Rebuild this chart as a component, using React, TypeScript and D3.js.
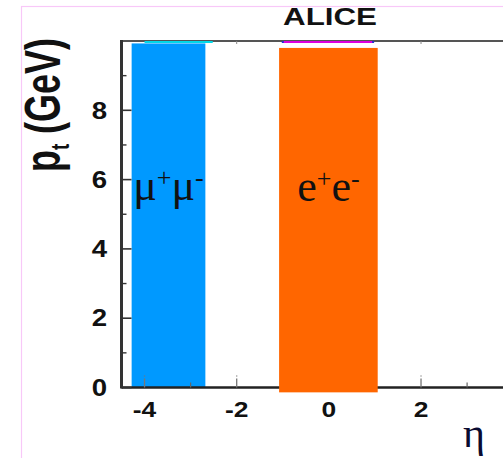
import React from 'react';
import * as d3 from 'd3';

// axis ticks
const etaMajorTicks = [-4, -2, 0, 2];
const etaMinorTicks = [-3, -1, 1, 3];
const ptMajorTicks = [0, 2, 4, 6, 8];
const ptMinorTicks = [1, 3, 5, 7, 9];
const etaTickLabels = ['-4', '-2', '0', '2'];
const ptTickLabels = ['0', '2', '4', '6', '8'];

// acceptance bands (drawn bars)
const bandNames = ['mumu', 'ee'];
const bandEtaLow = [-4.28, -1.08];
const bandEtaHigh = [-2.68, 1.06];
const bandPtLow = [0, -0.14];
const bandPtHigh = [9.93, 9.8];
const bandLabelPt = [5.4, 5.37];

// nominal acceptance lines at the top
const accEtaLow = [-4.0, -1.0];
const accEtaHigh = [-2.52, 0.96];
const accPt = [9.97, 10.0];

const W = 503;
const H = 458;

export default function App() {
  const x = d3.scaleLinear().domain([-4.5, 4.8]).range([121.5, 121.5 + 9.3 * 46.08]);
  const y = d3.scaleLinear().domain([0, 10]).range([387.5, 41]);

  const bandColors = ['#0099ff', '#ff6600'];
  const accColors = ['#00d8e8', '#dd00dd'];
  const font = 'Liberation Sans, Arial, Helvetica, sans-serif';
  const serif = 'Liberation Serif, Times New Roman, serif';

  const bar = (i: number) => (
    <rect
      key={bandNames[i]}
      x={x(bandEtaLow[i])}
      y={y(bandPtHigh[i])}
      width={x(bandEtaHigh[i]) - x(bandEtaLow[i])}
      height={y(bandPtLow[i]) - y(bandPtHigh[i])}
      fill={bandColors[i]}
    />
  );

  const x0 = x(-4.5);
  const yTop = y(10);
  const yBot = y(0);

  return (
    <svg width={W} height={H} style={{ position: 'absolute', left: 0, top: 0, background: '#fff' }}>
      <rect x={0} y={0} width={W} height={H} fill="#fff" />
      <rect x={21.5} y={6.5} width={700} height={700} fill="none" stroke="#f8c8f8" strokeWidth={1.2} />

      {/* title */}
      <text x={283} y={25} fontFamily={font} fontWeight="bold" fontSize={24} textLength={94} lengthAdjust="spacingAndGlyphs" fill="#111">ALICE</text>

      {/* blue band under axes */}
      {bar(0)}

      {/* top frame */}
      <line x1={x0} x2={W + 10} y1={yTop} y2={yTop} stroke="#555" strokeWidth={2} />
      {[-2, 2].map((t) => (
        <line key={'tt' + t} x1={x(t)} x2={x(t)} y1={yTop} y2={yTop + 3} stroke="#888" strokeWidth={1} />
      ))}

      {/* bottom axis */}
      <line x1={x0} x2={W + 10} y1={yBot} y2={yBot} stroke="#222" strokeWidth={2.5} />
      {etaMajorTicks.map((t) => (
        <line key={'xm' + t} x1={x(t)} x2={x(t)} y1={yBot} y2={yBot - 14} stroke="#777" strokeWidth={1.3} strokeDasharray="9,2,1,10" />
      ))}
      {etaMinorTicks.map((t) => (
        <line key={'xn' + t} x1={x(t)} x2={x(t)} y1={yBot} y2={yBot - 5} stroke="#666" strokeWidth={1.2} />
      ))}
      {etaMajorTicks.map((t, i) => (
        <g key={'xl' + t} transform={`translate(${x(t)},417) scale(1.2,1)`}>
          <text x={0} y={0} textAnchor="middle" fontFamily={font} fontWeight="bold" fontSize={22} fill="#111">
            {etaTickLabels[i]}
          </text>
        </g>
      ))}

      {/* left axis */}
      <line x1={x0} x2={x0} y1={yTop - 1} y2={yBot + 1} stroke="#333" strokeWidth={3} />
      {ptMajorTicks.map((t) => (
        <line key={'ym' + t} x1={x0} x2={x0 + 10} y1={y(t)} y2={y(t)} stroke="#333" strokeWidth={1.6} />
      ))}
      {ptMinorTicks.map((t) => (
        <line key={'yn' + t} x1={x0} x2={x0 + 5} y1={y(t)} y2={y(t)} stroke="#333" strokeWidth={1.4} />
      ))}
      {ptMajorTicks.map((t, i) => (
        <g key={'yl' + t} transform={`translate(107,${y(t)}) scale(1.2,1)`}>
          <text x={0} y={0} dy="0.36em" textAnchor="end" fontFamily={font} fontWeight="bold" fontSize={23} fill="#111">
            {ptTickLabels[i]}
          </text>
        </g>
      ))}

      {/* orange band over axis */}
      {bar(1)}

      {/* acceptance lines */}
      <line x1={x(accEtaLow[0])} x2={x(accEtaHigh[0])} y1={y(accPt[0])} y2={y(accPt[0])} stroke={accColors[0]} strokeWidth={2} />
      <line x1={x(accEtaLow[1])} x2={x(accEtaHigh[1])} y1={y(accPt[1]) + 1} y2={y(accPt[1]) + 1} stroke={accColors[1]} strokeWidth={2} />
      <rect x={x(accEtaLow[1]) - 1} y={y(accPt[1])} width={2} height={2} fill="#2233cc" />
      <rect x={x(accEtaHigh[1]) - 1} y={y(accPt[1])} width={2} height={2} fill="#2233cc" />

      {/* band labels */}
      <text x={(x(bandEtaLow[0]) + x(bandEtaHigh[0])) / 2} y={y(bandLabelPt[0])} textAnchor="middle" fontFamily={serif} fontSize={44} fill="#111">
        μ<tspan fontSize={26} dy={-14}>+</tspan><tspan dy={14}>μ</tspan><tspan fontSize={26} dy={-14}>-</tspan>
      </text>
      <text x={(x(bandEtaLow[1]) + x(bandEtaHigh[1])) / 2} y={y(bandLabelPt[1])} textAnchor="middle" fontFamily={serif} fontSize={44} fill="#111">
        e<tspan fontSize={26} dy={-14}>+</tspan><tspan dy={14}>e</tspan><tspan fontSize={26} dy={-14}>-</tspan>
      </text>

      {/* axis titles */}
      <g transform="translate(60,105) rotate(-90) scale(0.72,1)">
        <text x={0} y={0} textAnchor="middle" fontFamily={font} fontWeight="bold" fontSize={50} fill="#111">
          p<tspan fontSize={26} dy={9}>t</tspan><tspan dy={-9}> (GeV)</tspan>
        </text>
      </g>
      <text x={463} y={447} fontFamily={serif} fontSize={42} fill="#0a0a30">η</text>
    </svg>
  );
}
